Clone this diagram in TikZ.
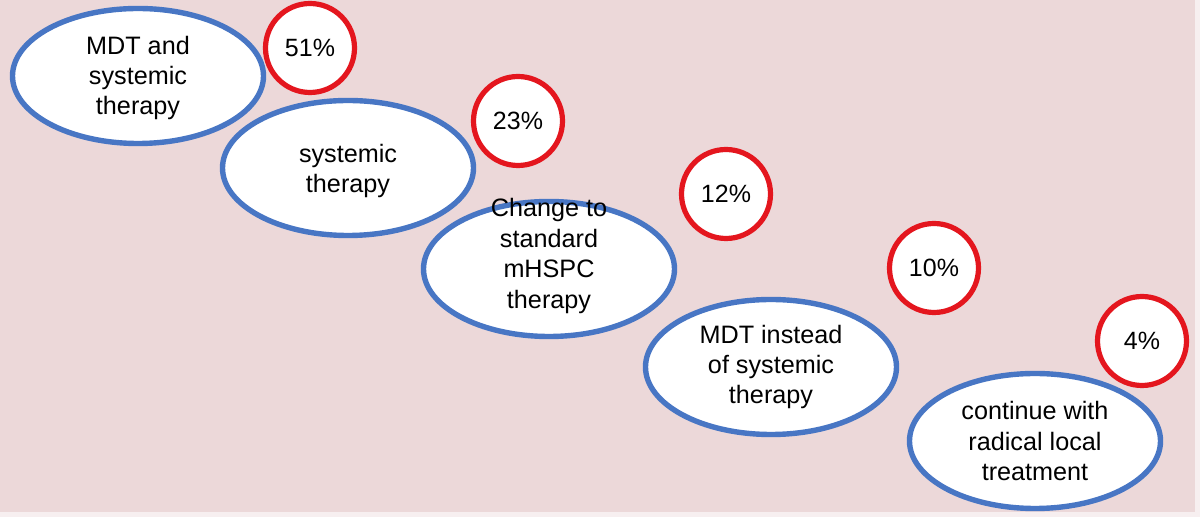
\documentclass[tikz,border=0pt]{standalone}
\usepackage{fontspec}
\setmainfont{Liberation Sans}
\usetikzlibrary{shapes.geometric, positioning}
\definecolor{slidepink}{RGB}{236,216,217}
\definecolor{ovalblue}{RGB}{72,118,196}
\definecolor{ringred}{RGB}{228,22,30}

\begin{document}
\begin{tikzpicture}[
    x=0.5pt, y=-0.5pt,
    oval/.style={ellipse, draw=ovalblue, fill=white, line width=2.7pt, minimum width=125.5pt, minimum height=67.5pt, inner sep=0pt},
    ring/.style={circle, draw=ringred, fill=white, line width=2.6pt, minimum size=44.5pt, inner sep=0pt, font=\fontsize{12.5}{15.2}\selectfont},
    ovaltext/.style={align=center, inner sep=0pt, font=\fontsize{12.6}{15.2}\selectfont},
]
    % Slide background
    \useasboundingbox (0,0) rectangle (1200,517);
    \fill[white!60!slidepink] (0,0) rectangle (1200,517);
    \fill[slidepink] (0,0) rectangle (1195,512);

    % Options (ovals)
    \node[oval] (mdtsys) at (138,76) {};
    \node[oval] (sys) at (348,168) {};
    \node[oval] (mhspc) at (549,269) {};
    \node[oval] (mdtinst) at (771,367) {};
    \node[oval] (radical) at (1035,441) {};

    % Shares (rings)
    \node[ring] (p51) at (310,48) {51\%};
    \node[ring] (p23) at (518,121) {23\%};
    \node[ring] (p12) at (726,194) {12\%};
    \node[ring] (p10) at (934,268) {10\%};
    \node[ring] (p4) at (1142,341) {4\%};

    % Option texts
    \node[ovaltext, yshift=-1pt] (mdtsys-t) at (mdtsys) {MDT and\\systemic\\therapy};
    \node[ovaltext, yshift=-1.5pt] (sys-t) at (sys) {systemic\\therapy};
    \node[ovaltext, yshift=6.5pt] (mhspc-t) at (mhspc) {Change to\\standard\\mHSPC\\therapy};
    \node[ovaltext] (mdtinst-t) at (mdtinst) {MDT instead\\of systemic\\therapy};
    \node[ovaltext] (radical-t) at (radical) {continue with\\radical local\\treatment};
\end{tikzpicture}
\end{document}
